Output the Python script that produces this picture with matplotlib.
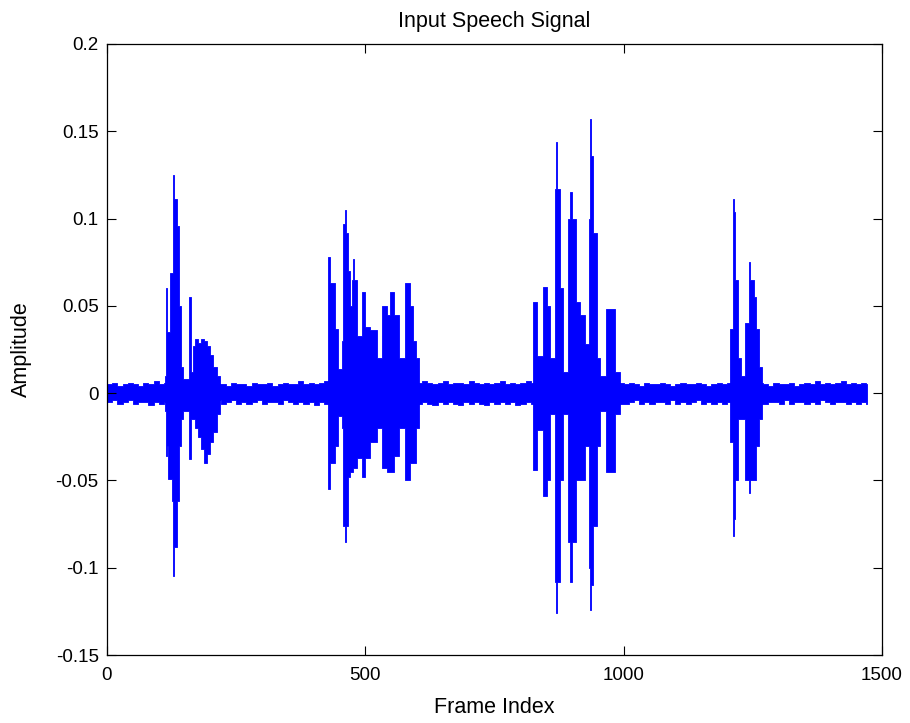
import numpy as np
import matplotlib
matplotlib.use("Agg")
import matplotlib.pyplot as plt

plt.rcParams['font.family'] = ['Liberation Sans', 'DejaVu Sans']
plt.rcParams['axes.unicode_minus'] = False

# ---------------------------------------------------------------------------
# Signal envelope data
# ---------------------------------------------------------------------------
signal_end = 1471

# background noise floor, one value every 10 frames, in thousandths of a unit
noise_step = 10
noise_upper_milli = [5, 6, 4, 5, 6, 5, 4, 6, 5, 7, 5, 6,
                     6, 5, 5, 6, 4, 5, 6, 5, 4, 5,
                     5, 4, 6, 5, 5, 4, 6, 5, 5, 6, 4, 5, 6, 5, 5, 7, 5, 6, 5, 6, 7,
                     6, 6, 6, 6, 6, 6, 6, 6, 6, 6, 6, 6, 6, 6, 6, 6, 6, 6,
                     7, 6, 5, 6, 7, 5, 6, 6, 5, 7, 6, 5, 6, 5, 6, 7, 5, 6, 5, 6, 7, 6,
                     6, 6, 6, 6, 6, 6, 6, 6, 6, 6, 6, 6, 6, 6, 6, 6, 6,
                     5, 6, 5, 4, 6, 5, 5, 6, 5, 4, 5, 6, 5, 5, 6, 5, 4, 5, 6, 5, 6,
                     6, 6, 6, 6, 6, 6,
                     5, 4, 6, 5, 5, 6, 4, 5, 6, 5, 7, 5, 6, 5, 6, 7, 5, 6, 5, 6, 5]
noise_lower_milli = [5, 4, 6, 5, 4, 6, 5, 5, 7, 5, 6, 5,
                     5, 6, 5, 5, 6, 4, 5, 6, 5, 4,
                     6, 5, 4, 6, 5, 6, 5, 4, 6, 5, 5, 6, 4, 5, 6, 5, 6, 5, 7, 5, 6,
                     6, 6, 6, 6, 6, 6, 6, 6, 6, 6, 6, 6, 6, 6, 6, 6, 6, 6,
                     5, 6, 7, 5, 6, 5, 6, 7, 5, 6, 5, 6, 7, 5, 6, 5, 6, 5, 7, 6, 5, 6,
                     6, 6, 6, 6, 6, 6, 6, 6, 6, 6, 6, 6, 6, 6, 6, 6, 6,
                     6, 5, 4, 6, 5, 6, 5, 5, 6, 4, 6, 5, 6, 5, 4, 6, 5, 6, 5, 6, 5,
                     6, 6, 6, 6, 6, 6,
                     6, 5, 5, 6, 4, 6, 5, 5, 6, 5, 6, 4, 5, 6, 5, 5, 6, 5, 6, 5, 6]

# voiced bursts: breakpoint frame, upper and lower peak amplitude held until next frame
burst1_frames = [112, 114, 117, 119, 122, 125, 127, 129, 135, 140, 144, 148, 158, 162,
                 166, 170, 176, 182, 188, 194, 200, 206, 212, 218]
burst1_upper = [0.010, 0.060, 0.035, 0.035, 0.069, 0.069, 0.125, 0.111, 0.096, 0.050,
                0.015, 0.008, 0.055, 0.012, 0.027, 0.031, 0.029, 0.031, 0.030, 0.027,
                0.022, 0.015, 0.010, 0.006]
burst1_lower = [-0.010, -0.036, -0.030, -0.049, -0.049, -0.062, -0.105, -0.088, -0.062,
                -0.030, -0.015, -0.010, -0.038, -0.015, -0.015, -0.020, -0.025, -0.032,
                -0.040, -0.035, -0.028, -0.022, -0.012, -0.006]

burst2_frames = [428, 431, 441, 447, 454, 457, 460, 462, 466, 470, 474, 476, 478, 483,
                 493, 499, 509, 522, 532, 542, 548, 556, 566, 576, 586, 592, 598, 604]
burst2_upper = [0.078, 0.063, 0.037, 0.014, 0.030, 0.097, 0.105, 0.092, 0.070, 0.050,
                0.065, 0.077, 0.065, 0.033, 0.058, 0.038, 0.036, 0.020, 0.050, 0.045,
                0.058, 0.045, 0.020, 0.063, 0.050, 0.030, 0.020, 0.006]
burst2_lower = [-0.055, -0.040, -0.030, -0.013, -0.020, -0.076, -0.085, -0.076, -0.048,
                -0.045, -0.045, -0.043, -0.043, -0.037, -0.048, -0.037, -0.028, -0.020,
                -0.043, -0.045, -0.045, -0.036, -0.020, -0.050, -0.040, -0.040, -0.020,
                -0.006]

burst3_frames = [825, 832, 844, 851, 857, 867, 869, 871, 876, 882, 893, 897, 900, 907,
                 915, 925, 932, 934, 937, 941, 948, 954, 966, 983, 992]
burst3_upper = [0.052, 0.021, 0.061, 0.050, 0.020, 0.117, 0.144, 0.117, 0.060, 0.012,
                0.100, 0.115, 0.100, 0.052, 0.045, 0.028, 0.100, 0.157, 0.136, 0.092,
                0.020, 0.010, 0.048, 0.012, 0.006]
burst3_lower = [-0.044, -0.021, -0.059, -0.050, -0.012, -0.108, -0.126, -0.108, -0.050,
                -0.012, -0.085, -0.108, -0.085, -0.050, -0.050, -0.030, -0.100, -0.124,
                -0.110, -0.076, -0.030, -0.010, -0.045, -0.012, -0.006]

burst4_frames = [1205, 1211, 1212, 1214, 1216, 1222, 1228, 1234, 1242, 1245, 1252,
                 1256, 1262, 1267]
burst4_upper = [0.037, 0.104, 0.111, 0.104, 0.065, 0.020, 0.010, 0.040, 0.075, 0.065,
                0.055, 0.037, 0.015, 0.006]
burst4_lower = [-0.028, -0.072, -0.082, -0.072, -0.050, -0.015, -0.015, -0.050, -0.057,
                -0.050, -0.050, -0.030, -0.015, -0.006]

# axis ticks
x_ticks = [0, 500, 1000, 1500]
x_tick_labels = ['0', '500', '1000', '1500']
y_ticks = [0.2, 0.15, 0.1, 0.05, 0.0, -0.05, -0.1, -0.15]
y_tick_labels = ['0.2', '0.15', '0.1', '0.05', '0', '-0.05', '-0.1', '-0.15']

WAVE_COLOR = '#0000ff'

# ---------------------------------------------------------------------------
fig = plt.figure(figsize=(9.10, 7.23), dpi=100)
fig.patch.set_facecolor('white')
ax = fig.add_axes([107 / 910, 68 / 723, 775 / 910, 611 / 723])


def draw_envelope(frames, upper, lower):
    ax.fill_between(frames, lower, upper, step='post', color=WAVE_COLOR,
                    linewidth=0.6, edgecolor=WAVE_COLOR)


# noise floor across the whole recording
noise_frames = np.arange(len(noise_upper_milli)) * noise_step
noise_frames = np.append(noise_frames, signal_end)
noise_up = np.array(noise_upper_milli + [noise_upper_milli[-1]]) * 1e-3
noise_lo = -np.array(noise_lower_milli + [noise_lower_milli[-1]]) * 1e-3
draw_envelope(noise_frames, noise_up, noise_lo)

for fr, up, lo in [(burst1_frames, burst1_upper, burst1_lower),
                   (burst2_frames, burst2_upper, burst2_lower),
                   (burst3_frames, burst3_upper, burst3_lower),
                   (burst4_frames, burst4_upper, burst4_lower)]:
    draw_envelope(fr, up, lo)

ax.set_xlim(0, 1500)
ax.set_ylim(-0.15, 0.2)
ax.set_xticks(x_ticks)
ax.set_xticklabels(x_tick_labels)
ax.set_yticks(y_ticks)
ax.set_yticklabels(y_tick_labels)

ax.tick_params(direction='in', length=6.5, width=0.8, top=True, right=True,
               labelsize=13.5, colors='black')
ax.tick_params(axis='x', pad=9)
ax.tick_params(axis='y', pad=6)
for spine in ax.spines.values():
    spine.set_linewidth(0.9)
    spine.set_color('black')

ax.set_title('Input Speech Signal', fontsize=15.5, pad=12)
ax.set_xlabel('Frame Index', fontsize=15.5)
ax.set_ylabel('Amplitude', fontsize=15.5)
ax.xaxis.set_label_coords(0.5, -0.068)
ax.yaxis.set_label_coords(-0.097, 0.5)

fig.savefig('out.png', dpi=100, facecolor='white')
